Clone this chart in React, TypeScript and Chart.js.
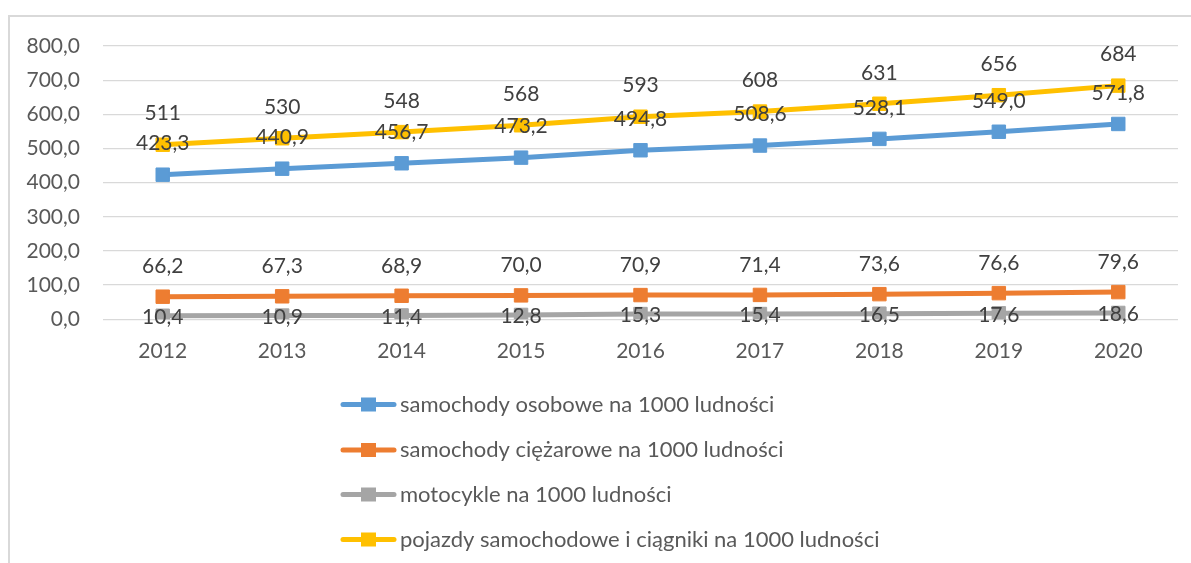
import React, { useEffect, useRef } from 'react';
import { Chart, registerables } from 'chart.js';

Chart.register(...registerables);

const years = ['2012', '2013', '2014', '2015', '2016', '2017', '2018', '2019', '2020'];
const osobowe = [423.3, 440.9, 456.7, 473.2, 494.8, 508.6, 528.1, 549.0, 571.8];
const ciezarowe = [66.2, 67.3, 68.9, 70.0, 70.9, 71.4, 73.6, 76.6, 79.6];
const motocykle = [10.4, 10.9, 11.4, 12.8, 15.3, 15.4, 16.5, 17.6, 18.6];
const pojazdy = [511, 530, 548, 568, 593, 608, 631, 656, 684];
const seriesNames = [
  'samochody osobowe na 1000 ludności',
  'samochody ciężarowe na 1000 ludności',
  'motocykle na 1000 ludności',
  'pojazdy samochodowe i ciągniki na 1000 ludności',
];
const seriesColors = ['#5B9BD5', '#ED7D31', '#A5A5A5', '#FFC000'];
const labelDecimals = [1, 1, 1, 0];
const labelOffsets = [-31, -30, 1.5, -31];

const FONT = 'Lato';
const fmt = (v: number, d: number) => v.toFixed(d).replace('.', ',');

const framePlugin = {
  id: 'frame',
  beforeDraw(chart: any) {
    const ctx = chart.ctx;
    ctx.save();
    ctx.fillStyle = '#FFFFFF';
    ctx.fillRect(0, 0, chart.width, chart.height);
    ctx.strokeStyle = '#D9D9D9';
    ctx.lineWidth = 2;
    ctx.strokeRect(9, 16, chart.width + 50, chart.height + 50);
    ctx.restore();
  },
};

const labelPlugin = {
  id: 'valueLabels',
  afterDatasetsDraw(chart: any) {
    const ctx = chart.ctx;
    ctx.save();
    ctx.font = `21px ${FONT}`;
    ctx.fillStyle = '#404040';
    ctx.textAlign = 'center';
    ctx.textBaseline = 'middle';
    chart.data.datasets.forEach((ds: any, di: number) => {
      const meta = chart.getDatasetMeta(di);
      meta.data.forEach((pt: any, i: number) => {
        ctx.fillText(fmt(ds.data[i], labelDecimals[di]), pt.x, pt.y + labelOffsets[di]);
      });
    });
    ctx.restore();
  },
};

const legendPlugin = {
  id: 'customLegend',
  afterDraw(chart: any) {
    const ctx = chart.ctx;
    ctx.save();
    const x0 = 343;
    const x1 = 394;
    const rowYs = [404.5, 450, 494.5, 539.5];
    seriesNames.forEach((name, i) => {
      const y = rowYs[i];
      ctx.strokeStyle = seriesColors[i];
      ctx.lineWidth = 5;
      ctx.lineCap = 'round';
      ctx.beginPath();
      ctx.moveTo(x0, y);
      ctx.lineTo(x1, y);
      ctx.stroke();
      ctx.fillStyle = seriesColors[i];
      ctx.fillRect((x0 + x1) / 2 - 7.5, y - 7, 15, 14);
      ctx.font = `22px ${FONT}`;
      ctx.fillStyle = '#595959';
      ctx.textAlign = 'left';
      ctx.textBaseline = 'middle';
      ctx.fillText(name, 400, y);
    });
    ctx.restore();
  },
};

export default function App() {
  const ref = useRef<HTMLCanvasElement | null>(null);
  useEffect(() => {
    if (!ref.current) return;
    const datasets = [osobowe, ciezarowe, motocykle, pojazdy].map((d, i) => ({
      label: seriesNames[i],
      data: d,
      borderColor: seriesColors[i],
      backgroundColor: seriesColors[i],
      borderWidth: 5,
      pointStyle: 'rect' as const,
      pointRadius: 9.5,
      pointBorderWidth: 1,
      pointBackgroundColor: seriesColors[i],
      pointBorderColor: seriesColors[i],
      tension: 0,
    }));
    const chart = new Chart(ref.current, {
      type: 'line',
      data: { labels: years, datasets },
      options: {
        animation: false,
        responsive: false,
        maintainAspectRatio: false,
        devicePixelRatio: 1,
        layout: { padding: { top: 46, right: 13, left: 0, bottom: 0 } },
        plugins: {
          legend: { display: false },
          tooltip: { enabled: false },
        },
        scales: {
          x: {
            offset: true,
            grid: { display: false, drawTicks: false },
            border: { display: false },
            ticks: {
              color: '#595959',
              font: { family: FONT, size: 21 },
              padding: 19,
              autoSkip: false,
              maxRotation: 0,
            },
            afterFit(scale: any) {
              scale.height = 563 - 319.3;
            },
          },
          y: {
            min: 0,
            max: 800,
            grid: { color: '#D9D9D9', lineWidth: 1.3, drawTicks: false },
            border: { display: false },
            ticks: {
              stepSize: 100,
              color: '#595959',
              font: { family: FONT, size: 21 },
              padding: 23,
              callback: (v: any) => fmt(Number(v), 1),
            },
            afterFit(scale: any) {
              scale.width = 103;
            },
          },
        },
      },
      plugins: [framePlugin, labelPlugin, legendPlugin],
    });
    return () => chart.destroy();
  }, []);
  return (
    <div style={{ position: 'absolute', left: 0, top: 0, width: 1191, height: 563 }}>
      <canvas ref={ref} width={1191} height={563} style={{ display: 'block' }} />
    </div>
  );
}
